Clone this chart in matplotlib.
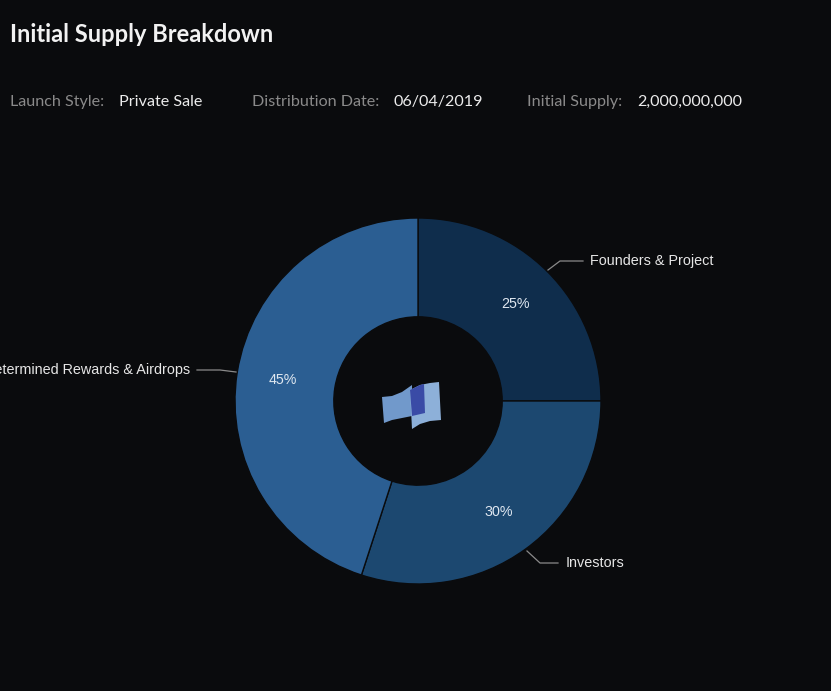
import matplotlib.pyplot as plt
from matplotlib.patches import Polygon

# data
labels = ['Founders & Project', 'Investors', 'Predetermined Rewards & Airdrops']
shares = [25, 30, 45]
colors = ['#0f2d4c', '#1c4870', '#2b5e92']

info_keys = ['Launch Style:', 'Distribution Date:', 'Initial Supply:']
info_vals = ['Private Sale', '06/04/2019', '2,000,000,000']
info_key_x = [10, 252, 527]
info_val_x = [119, 393, 637]

W, H = 831, 691
bg = '#0a0b0d'

fig = plt.figure(figsize=(W / 100, H / 100), dpi=100, facecolor=bg)
ax = fig.add_axes([0, 0, 1, 1])
ax.set_facecolor(bg)
ax.axis('off')

# work in pixel coords with y up
cx, cy, R = 418, H - 401, 183

wedges, _, pcts = ax.pie(shares, colors=colors, startangle=90, counterclock=False,
                         center=(cx, cy), radius=R, autopct='%d%%', pctdistance=0.75,
                         wedgeprops=dict(width=R * 0.54, edgecolor=bg, linewidth=1),
                         textprops=dict(color='#dfe7f0', fontsize=10.3, family='Liberation Sans'))
ax.set_xlim(0, W)
ax.set_ylim(0, H)
ax.set_aspect('auto')

# leader lines + labels (pixel coords, y down)
leaders = [
    [(548, 270), (560, 261), (583, 261)],
    [(527, 551), (540, 563), (558, 563)],
    [(236, 372), (220, 370), (197, 370)],
]
text_pos = [(590, 261, 'left'), (566, 563, 'left'), (190, 370, 'right')]
for lab, pts, (tx, ty, ha) in zip(labels, leaders, text_pos):
    xs = [p[0] for p in pts]
    ys = [H - p[1] for p in pts]
    ax.plot(xs, ys, color='#8a8a8a', lw=0.9)
    ax.text(tx, H - ty, lab, color='#e6e6e6', fontsize=10.4, family='Liberation Sans',
            ha=ha, va='center')

# small logo in the hole
logo = [
    ([(382, 397), (392, 396), (402, 392), (412, 385), (412, 416), (402, 418), (392, 420), (384, 423)], '#7199cb'),
    ([(410, 390), (420, 385), (430, 383), (439, 382), (441, 420), (430, 421), (420, 424), (412, 429)], '#8db0d9'),
    ([(410, 390), (420, 385), (424, 384), (425, 413), (412, 416)], '#3a4ba6'),
]
for pts, c in logo:
    ax.add_patch(Polygon([(x, H - y) for x, y in pts], closed=True, fc=c, ec='none'))

# header
fig.text(10 / W, 1 - 35 / H, 'Initial Supply Breakdown', color='#f2f2f2',
         fontsize=17, family='Lato', fontweight='bold', va='center')
for k, v, kx, vx in zip(info_keys, info_vals, info_key_x, info_val_x):
    fig.text(kx / W, 1 - 102 / H, k, color='#8a8a8a', fontsize=11.6, family='Lato', va='center')
    fig.text(vx / W, 1 - 102 / H, v, color='#ececec', fontsize=11.6, family='Lato', va='center')

fig.savefig('out.png', dpi=100, facecolor=bg)
